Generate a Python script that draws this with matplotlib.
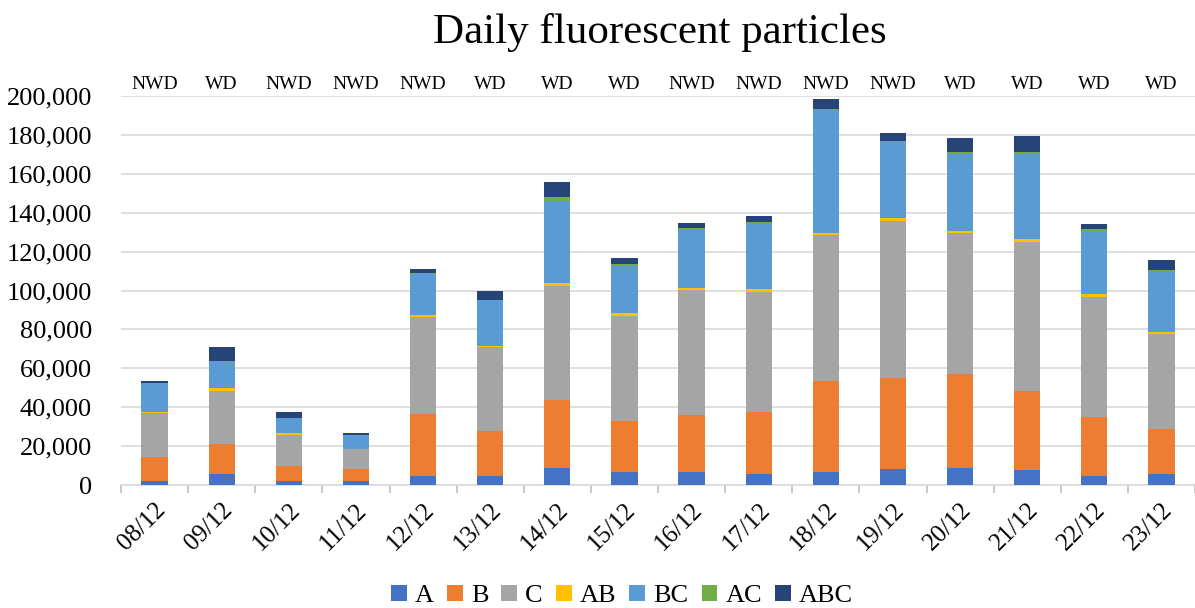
import numpy as np
import matplotlib
matplotlib.use("Agg")
import matplotlib.pyplot as plt
from matplotlib.patches import Rectangle

# Data (particles)
days = ['08/12', '09/12', '10/12', '11/12', '12/12', '13/12', '14/12', '15/12',
        '16/12', '17/12', '18/12', '19/12', '20/12', '21/12', '22/12', '23/12']
day_type = ['NWD', 'WD', 'NWD', 'NWD', 'NWD', 'WD', 'WD', 'WD',
            'NWD', 'NWD', 'NWD', 'NWD', 'WD', 'WD', 'WD', 'WD']

A = [2200, 5700, 2200, 2200, 4600, 4600, 8900, 6700,
     6700, 5500, 6900, 8100, 8900, 7700, 4600, 5500]
B = [12400, 15400, 7600, 5900, 31700, 23200, 34800, 26200,
     29300, 31900, 46600, 46700, 48200, 40600, 30500, 23300]
C = [22200, 27400, 15900, 10400, 49900, 43300, 58600, 54200,
     64300, 62000, 75000, 81100, 72300, 76800, 61700, 48700]
AB = [900, 1200, 900, 200, 1000, 300, 1400, 1200,
      1200, 1200, 1200, 1400, 1200, 1200, 1400, 1300]
BC = [14600, 13700, 7700, 6700, 21300, 23700, 42500, 24300,
      29600, 33600, 63100, 39200, 39600, 43900, 32600, 30500]
AC = [200, 300, 200, 100, 300, 200, 1700, 1000,
      1000, 1200, 500, 400, 1000, 1000, 1000, 1200]
ABC = [1000, 7400, 2900, 1100, 2200, 4300, 7900, 2900,
       2800, 2900, 5000, 4200, 7400, 8400, 2400, 5200]

series = {'A': A, 'B': B, 'C': C, 'AB': AB, 'BC': BC, 'AC': AC, 'ABC': ABC}
colors = {
    'A': '#4472C4',
    'B': '#ED7D31',
    'C': '#A5A5A5',
    'AB': '#FFC000',
    'BC': '#5B9BD5',
    'AC': '#70AD47',
    'ABC': '#264478',
}

plt.rcParams['font.family'] = ['Liberation Serif', 'DejaVu Serif']

fig = plt.figure(figsize=(11.95, 6.08), dpi=100)
ax = fig.add_axes([121 / 1195, 1 - 485 / 608, 1 - 121 / 1195, (485 - 96) / 608])

x = np.arange(len(days))
bottom = np.zeros(len(days))
for name, vals in series.items():
    ax.bar(x, vals, width=0.39, bottom=bottom, color=colors[name],
           label=name, zorder=3)
    bottom += np.array(vals)

# Axes styling
ax.set_ylim(0, 200000)
ax.set_xlim(-0.5, len(days) - 0.5)
ax.set_yticks(range(0, 200001, 20000))
ax.set_yticklabels([f"{v:,}" for v in range(0, 200001, 20000)], fontsize=19)
ax.yaxis.grid(True, color='#d9d9d9', linewidth=1.2, zorder=0)
ax.tick_params(axis='y', length=0, pad=21)

ax.set_xticks(x)
ax.set_xticklabels(days, rotation=45, ha='right', rotation_mode='anchor',
                   fontsize=18)
ax.tick_params(axis='x', length=0, pad=10)
# Excel-style boundary ticks
ax.set_xticks(np.arange(-0.5, len(days), 1.0), minor=True)
ax.tick_params(axis='x', which='minor', length=6, color='#bfbfbf', width=1.2)

for side in ['left', 'right', 'top']:
    ax.spines[side].set_visible(False)
ax.spines['bottom'].set_color('#d9d9d9')
ax.spines['bottom'].set_linewidth(1.2)

# Day type labels above bars
for i, t in enumerate(day_type):
    ax.text(i, 1.008, t, transform=ax.get_xaxis_transform(), ha='center',
            va='bottom', fontsize=14)

fig.text(660 / 1195, 1 - 32 / 608, 'Daily fluorescent particles',
         ha='center', va='center', fontsize=31)

handles = [Rectangle((0, 0), 1, 1, fc=colors[k]) for k in series]
fig.legend(handles, list(series.keys()), loc='center',
           bbox_to_anchor=(622 / 1195, 1 - 596 / 608), ncol=7, frameon=False,
           fontsize=19, handlelength=0.6, handleheight=0.6, handletextpad=0.3,
           columnspacing=0.5)

fig.savefig('out.png', dpi=100)
